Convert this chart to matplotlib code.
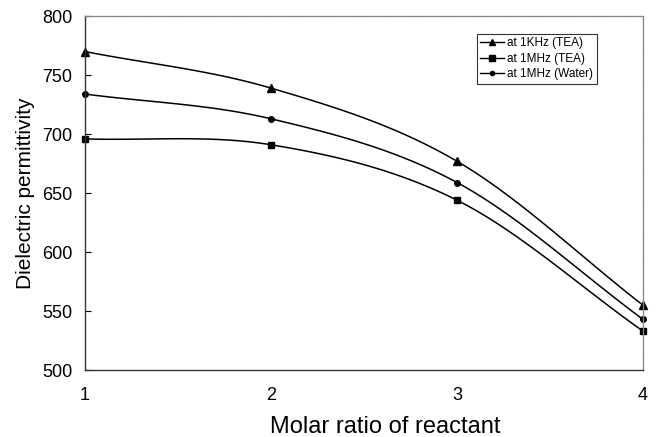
import numpy as np
import matplotlib
matplotlib.use("Agg")
import matplotlib.pyplot as plt

plt.rcParams['font.family'] = ['Liberation Sans', 'DejaVu Sans']

ratio = [1, 2, 3, 4]
khz1_tea = [770, 739, 677, 555]
mhz1_tea = [696, 691, 644, 533]
mhz1_water = [734, 713, 659, 543]
labels = ['at 1KHz (TEA)', 'at 1MHz (TEA)', 'at 1MHz (Water)']


def smooth(x, y, n=40):
    # Catmull-Rom curve through the points, like a spreadsheet's smoothed line
    x = np.asarray(x, float)
    y = np.asarray(y, float)
    px = np.concatenate([[2 * x[0] - x[1]], x, [2 * x[-1] - x[-2]]])
    py = np.concatenate([[2 * y[0] - y[1]], y, [2 * y[-1] - y[-2]]])
    t = np.linspace(0, 1, n)
    xs, ys = [], []
    for i in range(1, len(px) - 2):
        for p, out in ((px, xs), (py, ys)):
            p0, p1, p2, p3 = p[i - 1], p[i], p[i + 1], p[i + 2]
            out.extend(0.5 * (2 * p1 + (-p0 + p2) * t
                              + (2 * p0 - 5 * p1 + 4 * p2 - p3) * t ** 2
                              + (-p0 + 3 * p1 - 3 * p2 + p3) * t ** 3))
    return xs, ys


fig = plt.figure(figsize=(6.65, 4.37), dpi=100)
ax = fig.add_axes([0.128, 0.153, 0.839, 0.81])

for vals, mk, ms, lab in [(khz1_tea, '^', 6, labels[0]),
                          (mhz1_tea, 's', 5, labels[1]),
                          (mhz1_water, 'o', 4, labels[2])]:
    sx, sy = smooth(ratio, vals)
    ax.plot(sx, sy, color='black', lw=1.1)
    ax.plot(ratio, vals, linestyle='none', marker=mk, ms=ms, color='black',
            clip_on=False)
    ax.plot([], [], color='black', lw=1.0, marker=mk, ms=ms - 1, label=lab)

ax.set_xlim(1, 4)
ax.set_ylim(500, 800)
ax.set_xticks(ratio)
ax.set_yticks(range(500, 801, 50))
ax.tick_params(axis='y', direction='in', length=4, labelsize=13, pad=9)
ax.tick_params(axis='x', length=0, labelsize=13, pad=12)

for side in ('top', 'right'):
    ax.spines[side].set_color('#888888')
    ax.spines[side].set_linestyle((0, (1, 0.5)))
    ax.spines[side].set_linewidth(0.9)
for side in ('left', 'bottom'):
    ax.spines[side].set_color('#333333')
    ax.spines[side].set_linewidth(1.0)

ax.set_xlabel('Molar ratio of reactant', fontsize=17)
ax.xaxis.set_label_coords(0.538, -0.13)
ax.set_ylabel('Dielectric permittivity', fontsize=15, labelpad=5)

leg = ax.legend(loc='upper right', bbox_to_anchor=(0.917, 0.95), fontsize=8.5,
                frameon=True, fancybox=False, edgecolor='black',
                handlelength=2.0, handletextpad=0.3, borderpad=0.3,
                labelspacing=0.3, borderaxespad=0)
leg.get_frame().set_linewidth(0.8)

fig.savefig('out.png', dpi=100)
